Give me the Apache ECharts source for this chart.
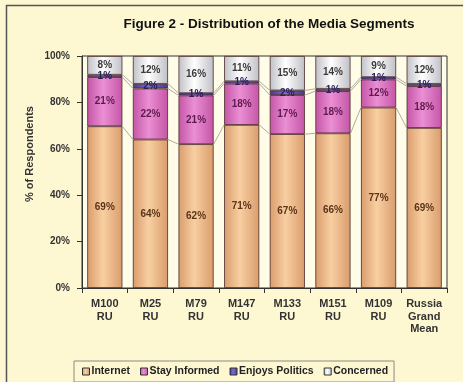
<!DOCTYPE html>
<html>
<head>
<meta charset="utf-8">
<script src="https://cdn.jsdelivr.net/npm/echarts@6/dist/echarts.min.js"></script>
<style>
  html, body { margin: 0; padding: 0; background: #fdf8d2; }
  #chart { width: 463px; height: 382px; }
</style>
</head>
<body>
<div id="chart"></div>
<script>
const categories = ["M100\nRU", "M25\nRU", "M79\nRU", "M147\nRU", "M133\nRU", "M151\nRU", "M109\nRU", "Russia\nGrand\nMean"];
const internet = [69, 64, 62, 71, 67, 66, 77, 69];
const stayInformed = [21, 22, 21, 18, 17, 18, 12, 18];
const enjoysPolitics = [1, 2, 1, 1, 2, 1, 1, 1];
const concerned = [8, 12, 16, 11, 15, 14, 9, 12];
const yTicks = [0, 20, 40, 60, 80, 100];

const FONT = "Arial, 'Liberation Sans', sans-serif";
const BAR_RATIO = 0.77;

const raw = [internet, stayInformed, enjoysPolitics, concerned];
const names = ["Internet", "Stay Informed", "Enjoys Politics", "Concerned"];

// 100% stacked: each column scaled to its own total, like Excel does
const totals = categories.map((_, i) => raw.reduce((s, arr) => s + arr[i], 0));
const shares = raw.map(arr => arr.map((v, i) => v / totals[i] * 100));

function barGradient(edge, mid) {
    return new echarts.graphic.LinearGradient(0, 0, 1, 0, [
        { offset: 0, color: edge },
        { offset: 0.45, color: mid },
        { offset: 1, color: edge }
    ]);
}

const looks = [
    { fill: barGradient("#d99c6c", "#f8cfa2"), legend: "#f2bd8c", label: "#5a3418" },
    { fill: barGradient("#c455a6", "#eb8fd4"), legend: "#dc70c0", label: "#5e1a4c" },
    { fill: barGradient("#45379a", "#7a6fc4"), legend: "#5a4aa8", label: "#2a2060" },
    { fill: barGradient("#bfc0c6", "#ffffff"), legend: "#e4e4e8", label: "#3a3a3a" }
];

const barSeries = shares.map((arr, k) => ({
    name: names[k],
    type: "bar",
    stack: "total",
    barWidth: (BAR_RATIO * 100) + "%",
    data: arr,
    itemStyle: { color: looks[k].fill, borderColor: "#4a2a2a", borderWidth: 0.8 },
    label: {
        show: true,
        position: "inside",
        fontFamily: FONT,
        fontSize: 10,
        fontWeight: "bold",
        color: looks[k].label,
        formatter: p => raw[k][p.dataIndex] + "%"
    },
    z: 3
}));

// Excel-style series lines joining segment tops of neighbouring bars
const seriesLines = {
    type: "custom",
    silent: true,
    data: categories.slice(0, -1).map((_, i) => [i]),
    encode: { x: 0 },
    renderItem: (params, api) => {
        const i = api.value(0);
        const halfW = api.size([1, 0])[0] * BAR_RATIO / 2;
        const children = [];
        let c1 = 0, c2 = 0;
        for (let k = 0; k < 3; k++) {
            c1 += shares[k][i];
            c2 += shares[k][i + 1];
            const a = api.coord([i, c1]);
            const b = api.coord([i + 1, c2]);
            children.push({
                type: "line",
                shape: { x1: a[0] + halfW, y1: a[1], x2: b[0] - halfW, y2: b[1] },
                style: { stroke: "#b0ac9e", lineWidth: 1 }
            });
        }
        return { type: "group", children };
    },
    z: 1
};

const chart = echarts.init(document.getElementById("chart"));
chart.setOption({
    backgroundColor: "#fdf8d2",
    animation: false,
    color: looks.map(l => l.legend),
    title: {
        text: "Figure 2 - Distribution of the Media Segments",
        left: 264,
        textAlign: "center",
        top: 12,
        textStyle: { fontFamily: FONT, fontSize: 13.5, fontWeight: "bold", color: "#111" }
    },
    graphic: [{
        type: "rect",
        shape: { x: 6.5, y: 5.5, width: 470, height: 390 },
        style: { fill: "none", stroke: "#555", lineWidth: 1.5 },
        silent: true
    }, {
        type: "text",
        x: 30,
        y: 154,
        rotation: Math.PI / 2,
        style: {
            text: "% of Respondents",
            fontFamily: FONT, fontSize: 11, fontWeight: "bold", fill: "#333",
            align: "center", verticalAlign: "middle"
        },
        silent: true
    }],
    legend: {
        data: names,
        left: 74,
        top: 361,
        width: 324,
        padding: [5, 6, 5, 8],
        itemGap: 10,
        itemWidth: 7,
        itemHeight: 7,
        icon: "rect",
        borderColor: "#8a8a80",
        borderWidth: 1,
        itemStyle: { borderColor: "#333", borderWidth: 1 },
        textStyle: { fontFamily: FONT, fontSize: 10.5, fontWeight: "bold", color: "#222", padding: [0, 0, 0, -3] }
    },
    grid: {
        left: 82, right: 16, top: 56, bottom: 94,
        show: true,
        backgroundColor: "#fffde8",
        borderColor: "#333",
        borderWidth: 1
    },
    xAxis: {
        type: "category",
        data: categories,
        axisLine: { lineStyle: { color: "#333" } },
        axisTick: { show: true, lineStyle: { color: "#333" } },
        axisLabel: {
            fontFamily: FONT, fontSize: 11, fontWeight: "bold", color: "#333",
            lineHeight: 12.5, margin: 10, interval: 0
        }
    },
    yAxis: {
        type: "value",
        min: yTicks[0],
        max: yTicks[yTicks.length - 1],
        interval: 20,
        axisLine: { show: true, lineStyle: { color: "#333" } },
        axisTick: { show: true, lineStyle: { color: "#333" } },
        splitLine: { show: false },
        axisLabel: {
            fontFamily: FONT, fontSize: 10, fontWeight: "bold", color: "#333",
            margin: 12, formatter: "{value}%"
        }
    },
    series: [seriesLines, ...barSeries]
});
</script>
</body>
</html>
